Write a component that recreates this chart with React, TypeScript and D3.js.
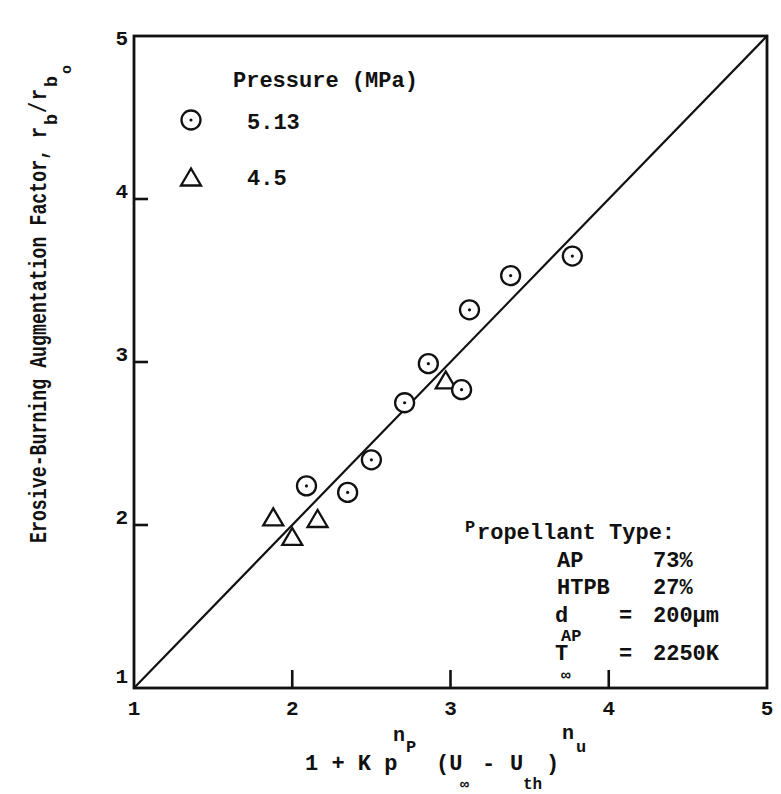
import React from "react";
import * as d3 from "d3";

// Measured points: x = 1 + K p^np (U∞ - Uth)^nu, y = rb / rb0
const circleX = [2.09, 2.35, 2.50, 2.71, 2.86, 3.07, 3.12, 3.38, 3.77];
const circleY = [2.24, 2.20, 2.40, 2.75, 2.99, 2.83, 3.32, 3.53, 3.65];
const triangleX = [1.88, 2.00, 2.16, 2.97];
const triangleY = [2.05, 1.93, 2.04, 2.89];

const xTicks = [1, 2, 3, 4, 5];
const yTicks = [1, 2, 3, 4, 5];
const referenceLine = [1, 5];

const W = 781;
const H = 794;
const FONT = "'Liberation Mono', 'DejaVu Sans Mono', monospace";
const INK = "#111";

const x = d3.scaleLinear().domain([1, 5]).range([134, 767]);
const y = d3.scaleLinear().domain([1, 5]).range([688, 36]);

function trianglePath(cx: number, cy: number, w = 20, h = 17) {
  return `M${cx - w / 2},${cy + h / 2}L${cx},${cy - h / 2}L${cx + w / 2},${cy + h / 2}Z`;
}

function CircleMark({ cx, cy }: { cx: number; cy: number }) {
  return (
    <g>
      <circle cx={cx} cy={cy} r={9.5} fill="#fff" stroke={INK} strokeWidth={2.3} />
      <circle cx={cx} cy={cy} r={1.6} fill={INK} />
    </g>
  );
}

function TriangleMark({ cx, cy }: { cx: number; cy: number }) {
  return (
    <path d={trianglePath(cx, cy)} fill="#fff" stroke={INK} strokeWidth={2.3} strokeLinejoin="miter" />
  );
}

export default function App() {
  const line = d3
    .line<number>()
    .x((d) => x(d))
    .y((d) => y(d));

  const txt = { fontFamily: FONT, fontWeight: 700, fill: INK } as const;

  return (
    <div style={{ position: "absolute", left: 0, top: 0 }}>
      <svg width={W} height={H} viewBox={`0 0 ${W} ${H}`} style={{ display: "block", background: "#fff" }}>
        {/* frame */}
        <rect
          x={x(1)}
          y={y(5)}
          width={x(5) - x(1)}
          height={y(1) - y(5)}
          fill="none"
          stroke={INK}
          strokeWidth={2.8}
        />

        {/* inward ticks */}
        {yTicks.slice(1, -1).map((t) => (
          <line key={"yt" + t} x1={x(1)} x2={x(1) + 14} y1={y(t)} y2={y(t)} stroke={INK} strokeWidth={2.6} />
        ))}
        {xTicks.slice(1, -1).map((t) => (
          <line key={"xt" + t} x1={x(t)} x2={x(t)} y1={y(1)} y2={y(1) - 18} stroke={INK} strokeWidth={2.6} />
        ))}

        {/* tick labels */}
        {yTicks.map((t) => (
          <text key={"yl" + t} x={x(1) - 6} y={y(t) + (t === 5 ? 9 : t === 1 ? -5 : -1)} textAnchor="end" fontSize={21} {...txt}>
            {t}
          </text>
        ))}
        {xTicks.map((t) => (
          <text key={"xl" + t} x={x(t)} y={715} textAnchor="middle" fontSize={21} {...txt}>
            {t}
          </text>
        ))}

        {/* y = x reference line */}
        <path d={line(referenceLine) || ""} fill="none" stroke={INK} strokeWidth={2.2} />

        {/* data */}
        {triangleX.map((v, i) => (
          <TriangleMark key={"tr" + i} cx={x(v)} cy={y(triangleY[i])} />
        ))}
        {circleX.map((v, i) => (
          <CircleMark key={"ci" + i} cx={x(v)} cy={y(circleY[i])} />
        ))}

        {/* legend */}
        <text x={233} y={87} fontSize={22} {...txt}>Pressure (MPa)</text>
        <CircleMark cx={191} cy={120} />
        <text x={247} y={129} fontSize={22} {...txt}>5.13</text>
        <TriangleMark cx={191} cy={177} />
        <text x={247} y={185} fontSize={22} {...txt}>4.5</text>

        {/* propellant block */}
        <text x={465} y={532} fontSize={17} {...txt}>P</text>
        <text x={477} y={539} fontSize={22} {...txt}>ropellant Type:</text>
        <text x={557} y={567} fontSize={22} {...txt}>AP</text>
        <text x={653} y={567} fontSize={22} {...txt}>73%</text>
        <text x={557} y={594} fontSize={22} {...txt}>HTPB</text>
        <text x={653} y={594} fontSize={22} {...txt}>27%</text>
        <text x={555} y={622} fontSize={22} {...txt}>d</text>
        <text x={561} y={641} fontSize={17} {...txt}>AP</text>
        <text x={619} y={622} fontSize={22} {...txt}>=</text>
        <text x={653} y={622} fontSize={22} {...txt}>200μm</text>
        <text x={555} y={660} fontSize={22} {...txt}>T</text>
        <text x={561} y={680} fontSize={16} {...txt}>∞</text>
        <text x={619} y={660} fontSize={22} {...txt}>=</text>
        <text x={653} y={660} fontSize={22} {...txt}>2250K</text>

        {/* x-axis title: 1 + K p^np (U∞ - Uth)^nu */}
        <g fontSize={22} {...txt}>
          <text x={305} y={770}>1 + K p</text>
          <text x={393} y={741} fontSize={20}>n</text>
          <text x={406} y={752} fontSize={17}>P</text>
          <text x={436} y={770}>(U</text>
          <text x={460} y={789} fontSize={15}>∞</text>
          <text x={482} y={770}>-</text>
          <text x={510} y={770}>U</text>
          <text x={523} y={789} fontSize={16}>th</text>
          <text x={546} y={770}>)</text>
          <text x={562} y={739} fontSize={20}>n</text>
          <text x={576} y={752} fontSize={17}>u</text>
        </g>

        {/* y-axis title, rotated */}
        <g transform="translate(46,543) rotate(-90)" {...txt}>
          <text x={0} y={0} fontSize={23} textLength={416} lengthAdjust="spacingAndGlyphs">
            Erosive-Burning Augmentation Factor, r
          </text>
          <text x={418} y={11} fontSize={18} textLength={11} lengthAdjust="spacingAndGlyphs">b</text>
          <text x={430} y={0} fontSize={23} textLength={11} lengthAdjust="spacingAndGlyphs">/</text>
          <text x={443} y={0} fontSize={23} textLength={11} lengthAdjust="spacingAndGlyphs">r</text>
          <text x={456} y={11} fontSize={18} textLength={11} lengthAdjust="spacingAndGlyphs">b</text>
          <text x={469} y={25} fontSize={15} textLength={9} lengthAdjust="spacingAndGlyphs">o</text>
        </g>
      </svg>
    </div>
  );
}
